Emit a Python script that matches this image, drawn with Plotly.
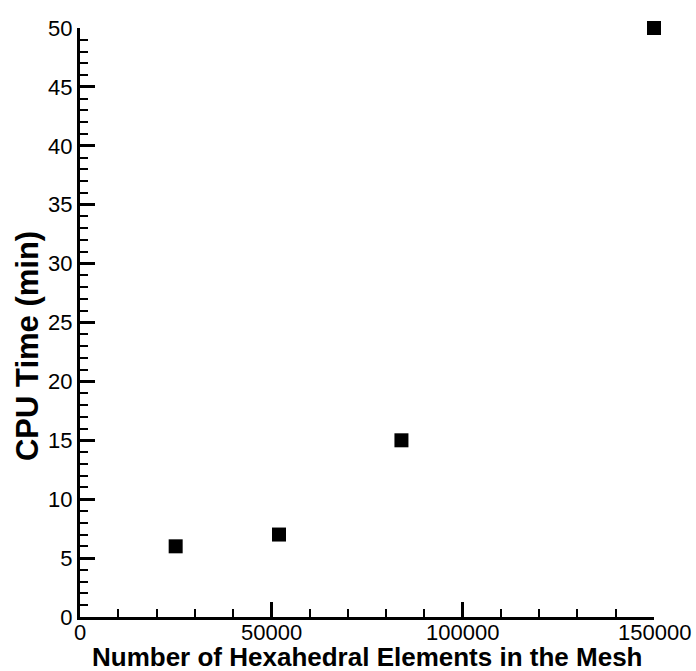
import plotly.graph_objects as go

# Mesh size vs. run time
elements = [25000, 52000, 84000, 150000]
cpu_minutes = [6, 7, 15, 50]

x_tick_values = [0, 50000, 100000, 150000]
x_tick_labels = ["0", "50000", "100000", "150000"]

x_title = "Number of Hexahedral Elements in the Mesh"
y_title = "CPU Time (min)"

font_family = "Liberation Sans, Arial, sans-serif"

fig = go.Figure(
    go.Scatter(
        x=elements,
        y=cpu_minutes,
        mode="markers",
        marker=dict(symbol="square", size=14, color="black", line=dict(width=0)),
        cliponaxis=False,
        showlegend=False,
    )
)

axis_common = dict(
    showgrid=False,
    zeroline=False,
    showline=True,
    linecolor="black",
    linewidth=3,
    ticks="inside",
    ticklen=15,
    tickwidth=3,
    tickcolor="black",
    tickfont=dict(family=font_family, size=22, color="black"),
    tickformat="d",
    mirror=False,
    automargin=False,
)

# x tick labels sit snug under the axis, so they are placed as annotations
tick_label_annotations = [
    dict(
        text=label,
        x=value, xref="x",
        y=0, yref="paper",
        xanchor="center", yanchor="middle",
        yshift=-15,
        showarrow=False,
        font=dict(family=font_family, size=22, color="black"),
    )
    for value, label in zip(x_tick_values, x_tick_labels)
]

fig.update_layout(
    width=696,
    height=671,
    margin=dict(l=80, r=42, t=28, b=54),
    plot_bgcolor="white",
    paper_bgcolor="white",
    xaxis=dict(
        **axis_common,
        range=[0, 150000],
        tickvals=x_tick_values,
        showticklabels=False,
        minor=dict(dtick=10000, ticks="inside", ticklen=8, tickwidth=1.5, tickcolor="black"),
    ),
    yaxis=dict(
        **axis_common,
        range=[0, 50],
        tick0=0,
        dtick=5,
        minor=dict(dtick=1, ticks="inside", ticklen=8, tickwidth=1.5, tickcolor="black"),
    ),
    annotations=tick_label_annotations + [
        dict(
            text=x_title,
            xref="paper", yref="paper",
            x=0.5, y=0,
            xanchor="center", yanchor="middle",
            yshift=-40,
            showarrow=False,
            font=dict(family=font_family, size=26, color="black", weight="bold"),
        ),
        dict(
            text=y_title,
            xref="paper", yref="paper",
            x=0, y=0.46,
            xanchor="center", yanchor="middle",
            xshift=-53,
            textangle=-90,
            showarrow=False,
            font=dict(family=font_family, size=31, color="black", weight="bold"),
        ),
    ],
)

fig.write_html("out.html")
